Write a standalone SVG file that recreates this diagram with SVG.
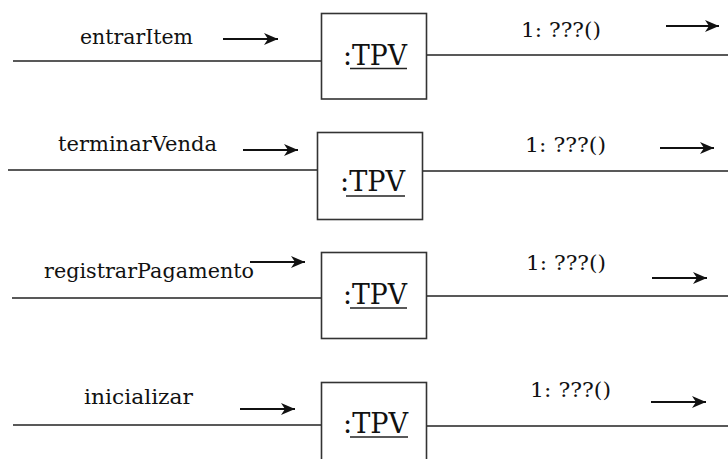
<svg xmlns="http://www.w3.org/2000/svg" width="728" height="459" viewBox="0 0 728 459">
<style>
.lbl{font-size:21px;fill:#111}
.obj{font-size:27.5px;fill:#111}
.box{fill:#fff;stroke:#333;stroke-width:1.6}
.ul{stroke:#222;stroke-width:1.3}
.link{stroke:#222;stroke-width:1.6;fill:none}
.arr{stroke:#111;stroke-width:1.8;fill:none;marker-end:url(#ah)}
</style>
<defs>
<marker id="ah" markerUnits="userSpaceOnUse" markerWidth="16" markerHeight="14" refX="14" refY="7" orient="auto">
<path d="M0,1 L14,7 L0,13 L4,7 z" fill="#111"/>
</marker>
</defs>
<rect width="728" height="459" fill="#fff"/>
<g id="connectors">
<line class="link" x1="13" y1="61" x2="321.5" y2="61"/>
<line class="link" x1="427" y1="55" x2="728" y2="55"/>
<line class="link" x1="8" y1="170" x2="317.5" y2="170"/>
<line class="link" x1="422.5" y1="171" x2="728" y2="171"/>
<line class="link" x1="12" y1="298" x2="321.5" y2="298"/>
<line class="link" x1="427" y1="296" x2="728" y2="296"/>
<line class="link" x1="13" y1="425" x2="321.5" y2="425"/>
<line class="link" x1="427" y1="426" x2="728" y2="426"/>
<line class="arr" x1="223" y1="39" x2="278" y2="39"/>
<line class="arr" x1="666" y1="26" x2="719" y2="26"/>
<line class="arr" x1="243" y1="150" x2="298" y2="150"/>
<line class="arr" x1="660" y1="148" x2="714" y2="148"/>
<line class="arr" x1="250" y1="262" x2="305" y2="262"/>
<line class="arr" x1="652" y1="278" x2="707" y2="278"/>
<line class="arr" x1="240" y1="409" x2="295" y2="409"/>
<line class="arr" x1="651" y1="402" x2="706" y2="402"/>
<g font-family="DejaVu Serif, serif">
<text class="lbl" x="80" y="44" textLength="113" lengthAdjust="spacingAndGlyphs">entrarItem</text>
<text class="lbl" x="521" y="37" textLength="80" lengthAdjust="spacingAndGlyphs">1: ???()</text>
<text class="lbl" x="58" y="151" textLength="159" lengthAdjust="spacingAndGlyphs">terminarVenda</text>
<text class="lbl" x="525" y="152" textLength="81" lengthAdjust="spacingAndGlyphs">1: ???()</text>
<text class="lbl" x="44" y="278" textLength="210" lengthAdjust="spacingAndGlyphs">registrarPagamento</text>
<text class="lbl" x="526" y="270" textLength="80" lengthAdjust="spacingAndGlyphs">1: ???()</text>
<text class="lbl" x="84" y="404" textLength="109" lengthAdjust="spacingAndGlyphs">inicializar</text>
<text class="lbl" x="530" y="397" textLength="81" lengthAdjust="spacingAndGlyphs">1: ???()</text>
</g>
</g>
<g id="tpv1" font-family="DejaVu Serif, serif">
<rect class="box" x="321.5" y="13.5" width="105" height="85.5"/>
<text class="obj" x="343" y="65" textLength="64" lengthAdjust="spacingAndGlyphs">:TPV</text>
<line class="ul" x1="350" y1="68.5" x2="407" y2="68.5"/>
</g>
<g id="tpv2" font-family="DejaVu Serif, serif">
<rect class="box" x="317.5" y="132.5" width="105" height="87"/>
<text class="obj" x="340" y="191" textLength="65" lengthAdjust="spacingAndGlyphs">:TPV</text>
<line class="ul" x1="346" y1="196" x2="405" y2="196"/>
</g>
<g id="tpv3" font-family="DejaVu Serif, serif">
<rect class="box" x="321.5" y="252.5" width="105" height="86"/>
<text class="obj" x="343" y="304" textLength="64" lengthAdjust="spacingAndGlyphs">:TPV</text>
<line class="ul" x1="350" y1="308" x2="407" y2="308"/>
</g>
<g id="tpv4" font-family="DejaVu Serif, serif">
<rect class="box" x="321.5" y="382.5" width="105" height="86"/>
<text class="obj" x="343" y="433" textLength="65" lengthAdjust="spacingAndGlyphs">:TPV</text>
<line class="ul" x1="350" y1="437" x2="408" y2="437"/>
</g>
</svg>
